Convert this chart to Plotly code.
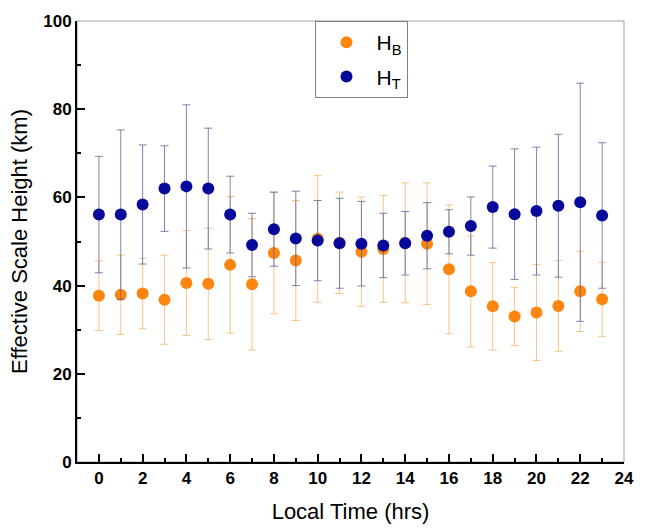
import plotly.graph_objects as go

hours = list(range(24))
hb = [37.7, 37.9, 38.2, 36.8, 40.6, 40.4, 44.7, 40.3, 47.4, 45.7, 50.6, 49.7,
      47.7, 48.3, 49.7, 49.5, 43.7, 38.7, 35.3, 33.0, 33.9, 35.4, 38.7, 36.9]
hb_err = [7.9, 9.0, 8.0, 10.1, 11.9, 12.6, 15.5, 14.9, 13.8, 13.6, 14.4, 11.5,
          12.4, 12.1, 13.6, 13.8, 14.6, 12.6, 9.9, 6.6, 10.9, 10.3, 9.1, 8.4]
ht = [56.1, 56.1, 58.4, 62.0, 62.5, 62.0, 56.1, 49.2, 52.8, 50.7, 50.2, 49.6,
      49.5, 49.1, 49.6, 51.3, 52.2, 53.5, 57.8, 56.2, 56.9, 58.1, 58.9, 55.9]
ht_err = [13.2, 19.2, 13.5, 9.7, 18.5, 13.7, 8.7, 7.2, 8.4, 10.7, 9.1, 10.2,
          9.6, 7.3, 7.2, 7.5, 5.0, 6.6, 9.3, 14.8, 14.5, 16.2, 27.0, 16.5]

fig = go.Figure()
fig.add_trace(go.Scatter(
    x=hours, y=hb, mode="markers", name="H<sub>B</sub>", legendgroup="b",
    marker=dict(color="#FF8511", size=12, line=dict(width=0)),
    error_y=dict(type="data", array=hb_err, visible=True,
                 color="rgba(240,180,100,0.75)", thickness=1, width=4),
))
fig.add_trace(go.Scatter(
    x=hours, y=ht, mode="markers", name="H<sub>T</sub>", legendgroup="t",
    marker=dict(color="#08089A", size=12, line=dict(width=0)),
    error_y=dict(type="data", array=ht_err, visible=True,
                 color="rgba(90,90,150,0.75)", thickness=1, width=4),
))

fig.add_shape(type="rect", xref="paper", yref="paper", x0=0, y0=0, x1=1, y1=1,
              line=dict(color="#A0A0A0", width=1), layer="below")

tickfont = dict(family="Liberation Sans, Arial", size=17, color="black", weight="bold")
titlefont = dict(family="Liberation Sans, Arial", size=22, color="black")
fig.update_layout(
    width=646, height=532,
    margin=dict(l=77, r=12, t=15, b=69),
    plot_bgcolor="white", paper_bgcolor="white",
    showlegend=True,
    legend=dict(x=0.436, y=1.0, xanchor="left", yanchor="top",
                bordercolor="#808080", borderwidth=1, bgcolor="white",
                font=dict(family="Liberation Sans, Arial", size=21, color="black"),
                itemwidth=50, tracegroupgap=4),
    xaxis=dict(range=[-1, 24], tickmode="linear", tick0=0, dtick=2,
               ticks="inside", ticklen=8, tickwidth=1.5, tickcolor="black",
               showline=True, linecolor="black", linewidth=2,
               showgrid=False, zeroline=False, tickfont=tickfont,
               minor=dict(dtick=1, tick0=0, ticks="inside", ticklen=4,
                          tickcolor="black", tickwidth=1.5, showgrid=False),
               title=dict(text="Local Time (hrs)", font=titlefont, standoff=16)),
    yaxis=dict(range=[0, 100], tickmode="linear", tick0=0, dtick=20,
               ticks="inside", ticklen=8, tickwidth=1.5, tickcolor="black",
               showline=True, linecolor="black", linewidth=2,
               showgrid=False, zeroline=False, tickfont=tickfont,
               minor=dict(dtick=10, tick0=0, ticks="inside", ticklen=4,
                          tickcolor="black", tickwidth=1.5, showgrid=False),
               title=dict(text="Effective Scale Height (km)", font=titlefont, standoff=10)),
)

fig.write_html("out.html")
